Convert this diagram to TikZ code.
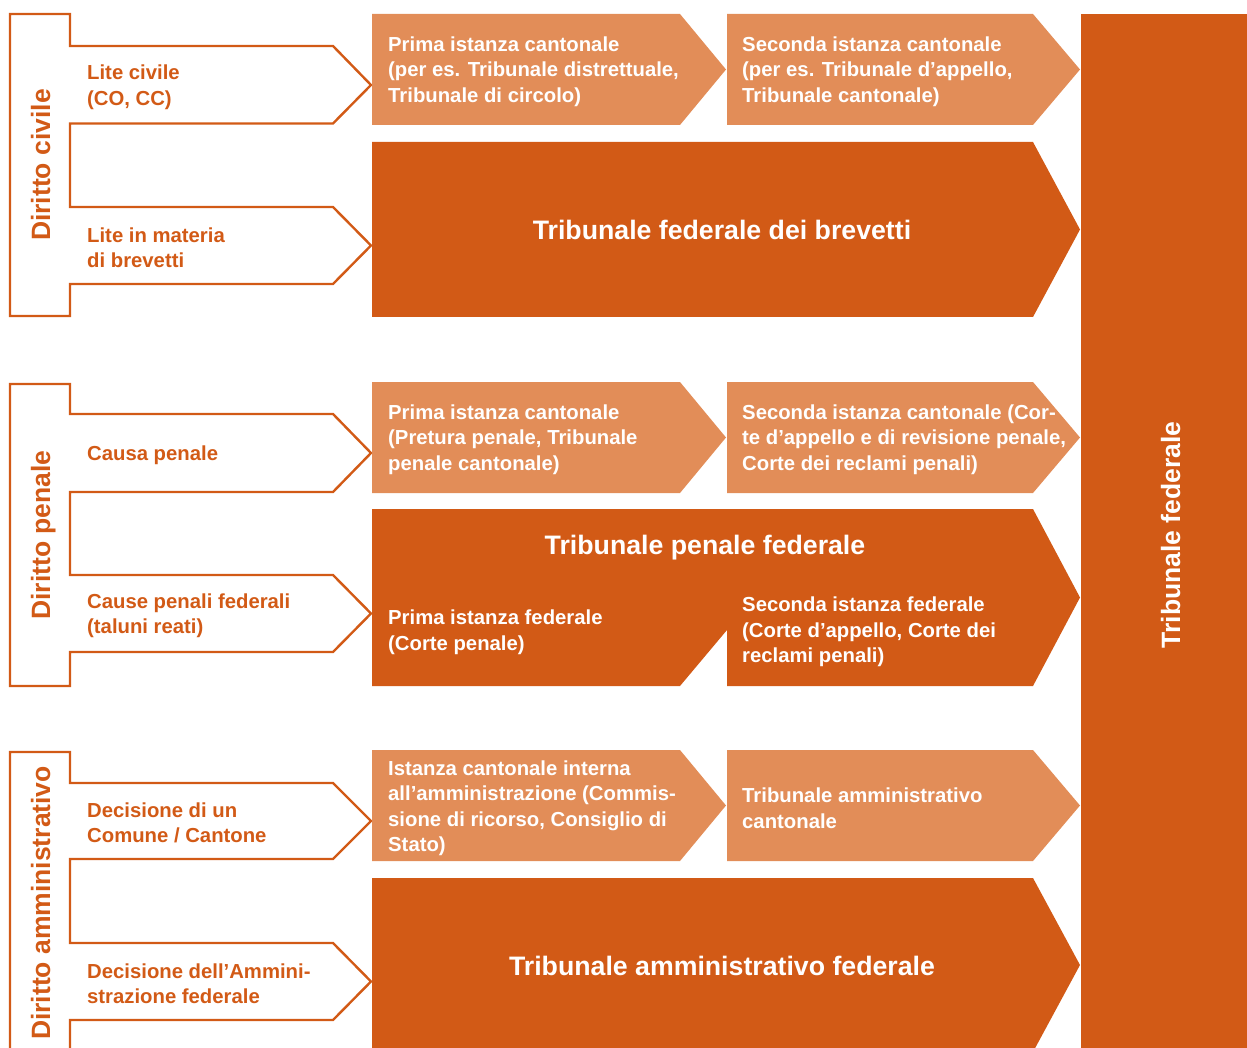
\documentclass[tikz,border=0pt]{standalone}
\usepackage{fontspec}
\setmainfont{Liberation Sans}
\definecolor{darkor}{HTML}{D25A16}
\definecolor{lightor}{HTML}{E28D58}
\begin{document}
\begin{tikzpicture}[x=1pt,y=1pt,
  bigtxt/.style={font=\fontsize{26.7}{30}\selectfont\bfseries, text=white, inner sep=0pt, anchor=base},
  smalltxt/.style={font=\fontsize{20.3}{25.5}\selectfont\bfseries, align=left, anchor=west, inner sep=0pt, yshift=-2pt},
  boxtxt/.style={smalltxt, text=white},
  lbltxt/.style={smalltxt, text=darkor},
  sidetxt/.style={font=\fontsize{26.5}{30}\selectfont\bfseries, text=darkor, rotate=90, inner sep=0pt, anchor=base},
  outl/.style={draw=darkor, line width=2.4pt, line join=miter},
  lightbox/.style={fill=lightor},
  darkbox/.style={fill=darkor},
]
\path[use as bounding box] (0,0) rectangle (1247,-1048);
\clip (0,0) rectangle (1247,-1048);

% ---------- right tall box ----------
\fill[darkbox] (1081,-14) rectangle (1247,-1060);
\node[sidetxt, text=white] (tf) at (1180,-535) {Tribunale federale};

% ---------- left brackets ----------
\draw[outl] (10,-14) -- (70,-14) -- (70,-46) -- (333,-46) -- (371,-85) -- (333,-123.5)
  -- (70,-123.5) -- (70,-207) -- (333,-207) -- (371,-245.5) -- (333,-284) -- (70,-284)
  -- (70,-316) -- (10,-316) -- cycle;
\draw[outl] (10,-384) -- (70,-384) -- (70,-414) -- (333,-414) -- (371,-453) -- (333,-492)
  -- (70,-492) -- (70,-575) -- (333,-575) -- (371,-613.5) -- (333,-652) -- (70,-652)
  -- (70,-686) -- (10,-686) -- cycle;
\draw[outl] (10,-1070) -- (10,-752) -- (70,-752) -- (70,-783) -- (333,-783) -- (371,-821) -- (333,-859)
  -- (70,-859) -- (70,-943) -- (333,-943) -- (371,-981.5) -- (333,-1020) -- (70,-1020)
  -- (70,-1070);

\node[sidetxt] (dciv) at (50,-165) {Diritto civile};
\node[sidetxt] (dpen) at (50,-535) {Diritto penale};
\node[sidetxt] (damm) at (50,-903) {Diritto amministrativo};

\node[lbltxt] (l1) at (87,-85.5) {Lite civile\\(CO, CC)};
\node[lbltxt] (l2) at (87,-245.5) {Lite in materia\\di brevetti};
\node[lbltxt] (l3) at (87,-453) {Causa penale};
\node[lbltxt] (l4) at (87,-613.5) {Cause penali federali\\(taluni reati)};
\node[lbltxt] (l5) at (87,-821) {Decisione di un\\Comune / Cantone};
\node[lbltxt] (l6) at (87,-981.5) {Decisione dell’Ammini-\\strazione federale};

% ---------- light boxes ----------
\foreach \t in {14,382,750}{
  \fill[lightbox] (372,-\t) -- (680,-\t) -- (726,-\t-55.5) -- (680,-\t-111) -- (372,-\t-111) -- cycle;
  \fill[lightbox] (727,-\t) -- (1033,-\t) -- (1080,-\t-55.5) -- (1033,-\t-111) -- (727,-\t-111) -- cycle;
}

\node[boxtxt] (a1) at (388,-69.5) {Prima istanza cantonale\\(per es. Tribunale distrettuale,\\Tribunale di circolo)};
\node[boxtxt] (a2) at (742,-69.5) {Seconda istanza cantonale\\(per es. Tribunale d’appello,\\Tribunale cantonale)};
\node[boxtxt] (b1) at (388,-437.5) {Prima istanza cantonale\\(Pretura penale, Tribunale\\penale cantonale)};
\node[boxtxt] (b2) at (742,-437.5) {Seconda istanza cantonale (Cor-\\te d’appello e di revisione penale,\\Corte dei reclami penali)};
\node[boxtxt] (c1) at (388,-806) {Istanza cantonale interna\\all’amministrazione (Commis-\\sione di ricorso, Consiglio di\\Stato)};
\node[boxtxt] (c2) at (742,-806) {Tribunale amministrativo\\cantonale};

% ---------- dark arrows ----------
\fill[darkbox] (372,-142) -- (1033,-142) -- (1080,-229.5) -- (1033,-317) -- (372,-317) -- cycle;
\node[bigtxt] (fb) at (722,-239.5) {Tribunale federale dei brevetti};

\fill[darkbox] (372,-509) -- (1033,-509) -- (1080,-597.5) -- (1033,-686) -- (727,-686)
  -- (727,-630) -- (680,-686) -- (372,-686) -- cycle;
\node[bigtxt] (fp) at (705,-554.5) {Tribunale penale federale};
\node[boxtxt] (p1) at (388,-630) {Prima istanza federale\\(Corte penale)};
\node[boxtxt] (p2) at (742,-630) {Seconda istanza federale\\(Corte d’appello, Corte dei\\reclami penali)};

\fill[darkbox] (372,-878) -- (1033,-878) -- (1080,-965) -- (1033,-1052) -- (372,-1052) -- cycle;
\node[bigtxt] (fa) at (722,-975.5) {Tribunale amministrativo federale};
\end{tikzpicture}
\end{document}
